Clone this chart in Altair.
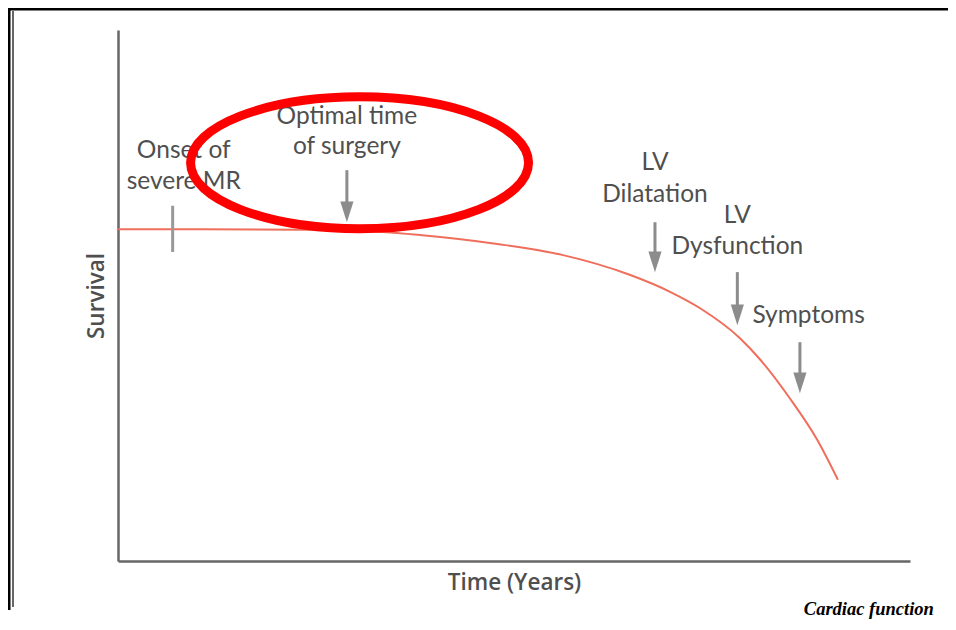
import altair as alt
import pandas as pd

# Survival curve (time and survival in relative 0-100 units)
curve_time = [0, 10.4, 23.0, 29.3, 38.1, 47.9, 56.2, 64.6, 69.7, 73.5, 78.5, 81.1, 84.8, 88.3, 90.9]
curve_survival = [62.5, 62.5, 62.4, 62.3, 61.4, 59.7, 57.6, 53.9, 50.7, 47.6, 42.0, 37.9, 30.7, 22.8, 15.3]

# Event arrows
event_names = ["Optimal time of surgery", "LV Dilatation", "LV Dysfunction", "Symptoms"]
arrow_x = [28.9, 67.8, 78.2, 86.1]
arrow_top = [73.6, 63.8, 54.4, 41.2]
arrow_tip = [63.8, 54.4, 44.4, 31.6]

# Onset tick
onset_x = [6.9]
onset_low = [58.2]
onset_high = [66.9]

# Labels
label_text = ["Onset of", "severe MR", "Optimal time", "of surgery", "LV", "Dilatation",
              "LV", "Dysfunction", "Symptoms"]
label_x = [8.3, 8.3, 28.9, 28.9, 67.8, 67.8, 78.2, 78.2, 87.2]
label_y = [77.2, 71.4, 83.6, 78.0, 75.0, 68.9, 65.0, 59.1, 46.1]

# Highlight ellipse around the optimal time
ellipse_x = [30.5]
ellipse_y = [75.0]

# Caption
caption_text = ["Cardiac function"]
caption_x = [94.8]
caption_y = [-11.0]

curve_df = pd.DataFrame({"t": curve_time, "s": curve_survival})
arrow_df = pd.DataFrame({"name": event_names, "x": arrow_x, "top": arrow_top, "tip": arrow_tip})
arrow_df["shaft_end"] = arrow_df["tip"] + 2.0
onset_df = pd.DataFrame({"x": onset_x, "lo": onset_low, "hi": onset_high})
label_df = pd.DataFrame({"text": label_text, "x": label_x, "y": label_y})
ellipse_df = pd.DataFrame({"x": ellipse_x, "y": ellipse_y})
caption_df = pd.DataFrame({"text": caption_text, "x": caption_x, "y": caption_y})

xs = alt.Scale(domain=[0, 100], nice=False, zero=False)
ys = alt.Scale(domain=[0, 100], nice=False, zero=False)

xaxis = alt.Axis(ticks=False, labels=False, grid=False, domainColor="#666666", domainWidth=2.5,
                 title="Time (Years)", titleFont="Open Sans", titleFontSize=22.5, titleFontWeight=600,
                 titleColor="#4f4f4f", titlePadding=10)
yaxis = alt.Axis(ticks=False, labels=False, grid=False, domainColor="#666666", domainWidth=2.5,
                 title="Survival", titleFont="Open Sans", titleFontSize=22.5, titleFontWeight=600,
                 titleColor="#4f4f4f", titlePadding=10)

curve = alt.Chart(curve_df).mark_line(color="#ef6e5c", strokeWidth=2, interpolate="monotone").encode(
    x=alt.X("t:Q", scale=xs, axis=xaxis),
    y=alt.Y("s:Q", scale=ys, axis=yaxis),
)

onset = alt.Chart(onset_df).mark_rule(color="#999999", strokeWidth=3).encode(
    x=alt.X("x:Q", scale=xs), y=alt.Y("lo:Q", scale=ys), y2="hi:Q"
)

shafts = alt.Chart(arrow_df).mark_rule(color="#8c8c8c", strokeWidth=3).encode(
    x=alt.X("x:Q", scale=xs), y=alt.Y("top:Q", scale=ys), y2="shaft_end:Q"
)

heads = alt.Chart(arrow_df).mark_point(
    shape="M -0.32 -1 L 0.32 -1 L 0 0 Z", size=1700, filled=True, color="#8c8c8c", opacity=1, strokeWidth=0
).encode(x=alt.X("x:Q", scale=xs), y=alt.Y("tip:Q", scale=ys))

labels = alt.Chart(label_df).mark_text(
    font="Lato", fontSize=24.5, color="#4f4f4f", align="center", baseline="middle"
).encode(x=alt.X("x:Q", scale=xs), y=alt.Y("y:Q", scale=ys), text="text:N")

ellipse = alt.Chart(ellipse_df).mark_point(
    shape="M -1 0 A 1 0.39 0 1 1 1 0 A 1 0.39 0 1 1 -1 0 Z", size=114244, filled=False,
    color="#ff0000", strokeWidth=9, opacity=1
).encode(x=alt.X("x:Q", scale=xs), y=alt.Y("y:Q", scale=ys))

caption = alt.Chart(caption_df).mark_text(
    font="Liberation Serif", fontSize=18.5, fontWeight="bold", fontStyle="italic", color="#000000",
    align="center", baseline="bottom"
).encode(x=alt.X("x:Q", scale=xs), y=alt.Y("y:Q", scale=ys), text="text:N")

# page frame lines (decoration)
frame_top = alt.Chart(pd.DataFrame({"k": [0]})).mark_rule(color="#000000", strokeWidth=3).encode(
    x=alt.value(-110), x2=alt.value(840), y=alt.value(-21)
)
frame_left = alt.Chart(pd.DataFrame({"k": [0]})).mark_rule(color="#000000", strokeWidth=3).encode(
    x=alt.value(-109), y=alt.value(-22), y2=alt.value(580)
)
frame_left2 = alt.Chart(pd.DataFrame({"k": [0]})).mark_rule(color="#000000", strokeWidth=1.2).encode(
    x=alt.value(-105), y=alt.value(-19), y2=alt.value(577)
)

chart = alt.layer(
    frame_top, frame_left, frame_left2, curve, onset, shafts, heads, labels, ellipse, caption
).properties(
    width=792, height=531,
    padding={"left": 110, "top": 22, "right": 38, "bottom": 61},
    autosize=alt.AutoSizeParams(type="none"),
).configure_view(strokeWidth=0)

chart.save("out.html", embed_options={"renderer": "svg", "actions": False})
